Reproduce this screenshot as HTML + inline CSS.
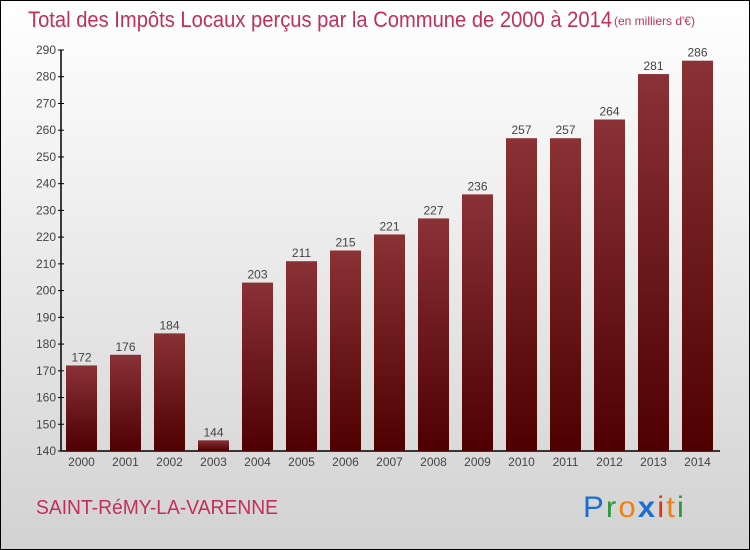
<!DOCTYPE html>
<html><head><meta charset="utf-8"><style>
html,body{margin:0;padding:0}
body{width:750px;height:550px;overflow:hidden;font-family:"Liberation Sans",sans-serif}
#frame{position:absolute;left:0;top:0;width:748px;height:548px;border:1px solid #000;background:linear-gradient(#ffffff,#f2f2f2 30%,#d2d2d2)}
</style></head><body>
<div id="frame">
<svg width="750" height="550" style="position:absolute;left:-1px;top:-1px">
<defs>
<linearGradient id="bg" x1="0" y1="0" x2="0" y2="1"><stop offset="0" stop-color="#8a3236"/><stop offset="1" stop-color="#4e0000"/></linearGradient>
</defs>
<text x="28" y="27" font-size="22" fill="#c0305a" font-weight="300" textLength="584" lengthAdjust="spacingAndGlyphs">Total des Impôts Locaux perçus par la Commune de 2000 à 2014</text>
<text x="614" y="25" font-size="12" fill="#c0305a">(en milliers d'€)</text>
<g id="axes"></g>
<g id="bars"></g>
<text x="36" y="514" font-size="20" fill="#c0305a" textLength="242" lengthAdjust="spacingAndGlyphs">SAINT-RéMY-LA-VARENNE</text>
<text x="583" y="517" font-size="30" letter-spacing="2" textLength="103" lengthAdjust="spacingAndGlyphs"><tspan fill="#1a6fd0">P</tspan><tspan fill="#2a9a3a">r</tspan><tspan fill="#f08010">o</tspan><tspan fill="#1a6fd0" font-weight="bold">x</tspan><tspan fill="#e03010">i</tspan><tspan fill="#f08010">t</tspan><tspan fill="#2a9a3a">i</tspan></text>
</svg>
</div>
<script>
const categories=["2000","2001","2002","2003","2004","2005","2006","2007","2008","2009","2010","2011","2012","2013","2014"];
const values=[172,176,184,144,203,211,215,221,227,236,257,257,264,281,286];
const yTicks=[140,150,160,170,180,190,200,210,220,230,240,250,260,270,280,290];
const NS="http://www.w3.org/2000/svg";
const yMin=140,yMax=290,yTop=50,yBot=451;
const y=v=>yBot-(v-yMin)/(yMax-yMin)*(yBot-yTop);
const x0=66,step=44,bw=31;
const x=i=>x0+i*step;
function mk(t,a,p){const e=document.createElementNS(NS,t);for(const k in a)e.setAttribute(k,a[k]);p.appendChild(e);return e;}
const ax=document.getElementById('axes'),bs=document.getElementById('bars');
const yl=mk('line',{x1:61,y1:yTop,x2:61,y2:yBot,stroke:'#000','stroke-width':1.5},ax);


const xl=mk('line',{x1:61,y1:yBot,x2:720,y2:yBot,stroke:'#000','stroke-width':1.5},ax);


yTicks.forEach(t=>{
 mk('line',{x1:58,y1:y(t),x2:64,y2:y(t),stroke:'#000'},ax);
 const tx=mk('text',{x:56,y:y(t)+4,'font-size':12,fill:'#444','text-anchor':'end'},ax);
 tx.textContent=t;
 
 
});
categories.forEach((c,i)=>{
 const r=mk('rect',{x:x(i),y:y(values[i]),width:bw,height:yBot-y(values[i]),fill:'url(#bg)'},bs);
 
 
 const v=mk('text',{x:x(i)+bw/2,y:y(values[i])-4,'font-size':12,fill:'#444','text-anchor':'middle'},bs);
 v.textContent=values[i];
 
 
 const l=mk('text',{x:x(i)+bw/2,y:466,'font-size':12,fill:'#444','text-anchor':'middle'},bs);
 l.textContent=c;
 
 
});
</script>
</body></html>
